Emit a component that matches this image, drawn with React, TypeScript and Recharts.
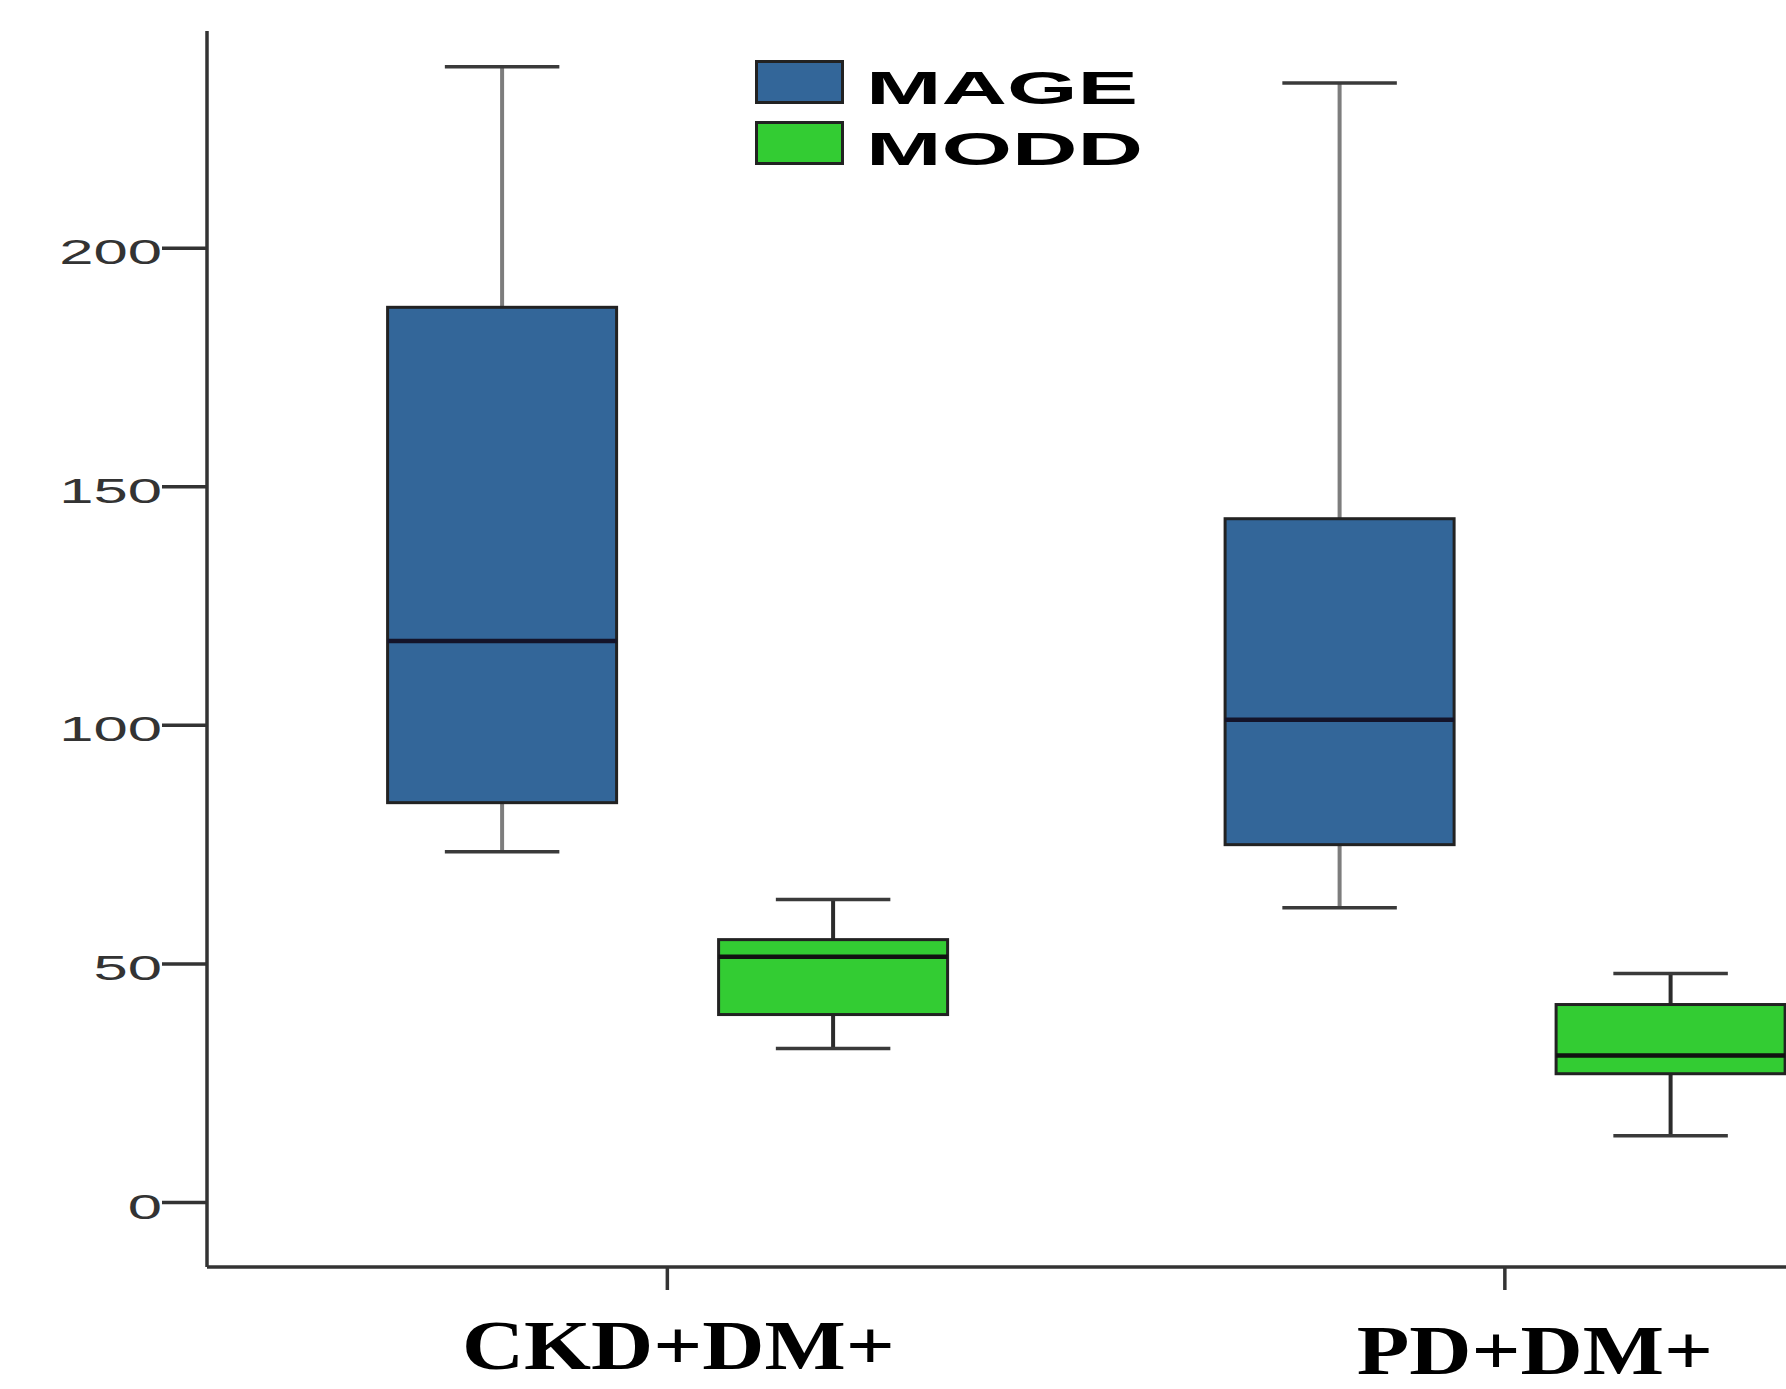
import { BarChart, Bar, XAxis, YAxis, Legend } from 'recharts';

const categories = ['CKD+DM+', 'PD+DM+'];

// MAGE five-number summaries
const mageMin = [73.5, 61.8];
const mageQ1 = [83.8, 75.0];
const mageMedian = [117.7, 101.2];
const mageQ3 = [187.6, 143.3];
const mageMax = [238.0, 234.6];

// MODD five-number summaries
const moddMin = [32.3, 14.0];
const moddQ1 = [39.4, 27.0];
const moddMedian = [51.5, 30.8];
const moddQ3 = [55.1, 41.5];
const moddMax = [63.5, 48.0];

const yTicks = [0, 50, 100, 150, 200];

const data = categories.map((category, i) => ({
  category,
  mage: { min: mageMin[i], q1: mageQ1[i], median: mageMedian[i], q3: mageQ3[i], max: mageMax[i] },
  modd: { min: moddMin[i], q1: moddQ1[i], median: moddMedian[i], q3: moddQ3[i], max: moddMax[i] },
}));

const SANS = "'Liberation Sans', Arial, sans-serif";
const SERIF = "'Liberation Serif', 'Times New Roman', serif";

// the bar spans min..max; the inner stats are placed along that span
function makeBoxShape(key: 'mage' | 'modd', whiskerColor: string, medianColor: string) {
  return (props: any) => {
    const { x, y, width, height, payload } = props;
    const s = payload[key];
    const py = (v: number) => y + ((s.max - v) / (s.max - s.min)) * height;
    const cx = x + width / 2;
    const capHalf = width / 4;
    return (
      <g>
        <line x1={cx} x2={cx} y1={py(s.max)} y2={py(s.q3)} stroke={whiskerColor} strokeWidth={4} />
        <line x1={cx} x2={cx} y1={py(s.q1)} y2={py(s.min)} stroke={whiskerColor} strokeWidth={4} />
        <line x1={cx - capHalf} x2={cx + capHalf} y1={py(s.max)} y2={py(s.max)} stroke="#3a3a3a" strokeWidth={3.5} />
        <line x1={cx - capHalf} x2={cx + capHalf} y1={py(s.min)} y2={py(s.min)} stroke="#3a3a3a" strokeWidth={3.5} />
        <rect
          x={x}
          y={py(s.q3)}
          width={width}
          height={py(s.q1) - py(s.q3)}
          fill={props.fill}
          stroke="#222"
          strokeWidth={3}
        />
        <line x1={x} x2={x + width} y1={py(s.median)} y2={py(s.median)} stroke={medianColor} strokeWidth={4.5} />
      </g>
    );
  };
}

function YTick(props: any) {
  const { x, y, payload } = props;
  return (
    <g transform={`translate(${x},${y})`}>
      <text transform="scale(1.76,1)" textAnchor="end" dy={16} fontSize={35} fontFamily={SANS} fill="#333">
        {payload.value}
      </text>
    </g>
  );
}

// the category labels sit a little off their ticks in the original
const labelNudge = [
  { dx: 11, dy: 79 },
  { dx: 30, dy: 84 },
];

function XTick(props: any) {
  const { x, y, payload, index } = props;
  const n = labelNudge[index] || { dx: 0, dy: 80 };
  return (
    <g transform={`translate(${x + n.dx},${y + n.dy})`}>
      <text transform="scale(1.23,1)" textAnchor="middle" fontSize={70} fontWeight="bold" fontFamily={SERIF} fill="#000">
        {payload.value}
      </text>
    </g>
  );
}

function BoxLegend(props: any) {
  const items = props.payload || [];
  return (
    <svg width={500} height={130}>
      {items.map((entry: any, i: number) => (
        <g key={entry.value} transform={`translate(0,${i * 61})`}>
          <rect x={1.5} y={1.5} width={86} height={41} fill={entry.color} stroke="#222" strokeWidth={3} />
          <text
            transform="translate(111,44) scale(1.93,1)"
            fontSize={47}
            fontWeight="bold"
            fontFamily={SANS}
            fill="#000"
          >
            {entry.value}
          </text>
        </g>
      ))}
    </svg>
  );
}

export default function App() {
  return (
    <div style={{ position: 'absolute', left: 0, top: 0, width: 1786, height: 1389, background: '#fff' }}>
      <BarChart
        width={1786}
        height={1389}
        data={data}
        margin={{ top: 31, right: 0, bottom: 0, left: 0 }}
        barGap={102}
      >
        <XAxis
          dataKey="category"
          type="category"
          padding={{ left: 41.6, right: -137.6 }}
          height={122}
          tickSize={23}
          tickMargin={0}
          interval={0}
          axisLine={{ stroke: '#333', strokeWidth: 3.5 }}
          tickLine={{ stroke: '#333', strokeWidth: 3.5 }}
          tick={<XTick />}
        />
        <YAxis
          type="number"
          domain={[-13.5, 245.5]}
          ticks={yTicks}
          allowDataOverflow
          width={207}
          tickSize={45}
          tickMargin={0}
          interval={0}
          axisLine={{ stroke: '#333', strokeWidth: 3.5 }}
          tickLine={{ stroke: '#333', strokeWidth: 3.5 }}
          tick={<YTick />}
        />
        <Legend
          layout="vertical"
          align="center"
          verticalAlign="middle"
          content={<BoxLegend />}
          wrapperStyle={{ left: 755, top: 60, width: 500, height: 130 }}
        />
        <Bar
          name="MAGE"
          dataKey={(d: any) => [d.mage.min, d.mage.max]}
          fill="#336699"
          barSize={229}
          isAnimationActive={false}
          shape={makeBoxShape('mage', '#7d7d7d', '#14142a')}
        />
        <Bar
          name="MODD"
          dataKey={(d: any) => [d.modd.min, d.modd.max]}
          fill="#33cc33"
          barSize={229}
          isAnimationActive={false}
          shape={makeBoxShape('modd', '#2b2b2b', '#111')}
        />
      </BarChart>
    </div>
  );
}
